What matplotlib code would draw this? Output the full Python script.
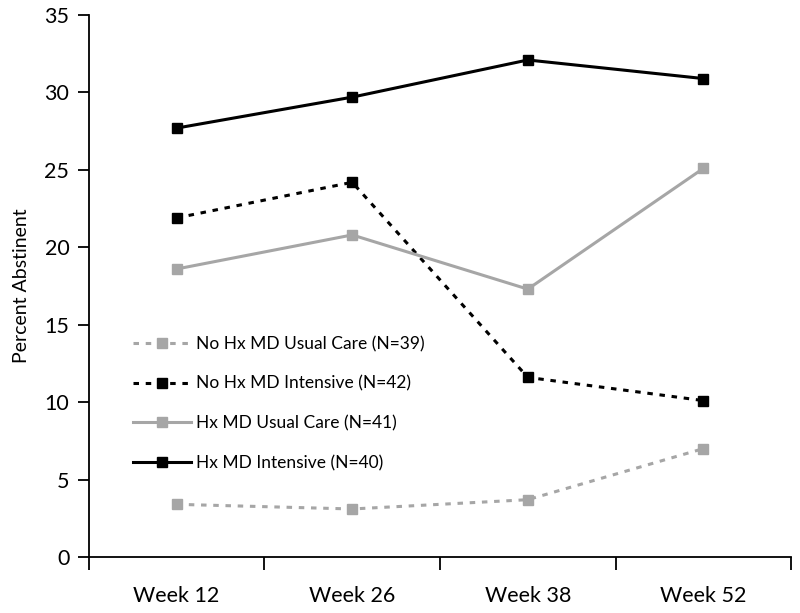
import matplotlib
matplotlib.use("Agg")
import matplotlib.pyplot as plt
import numpy as np

plt.rcParams['font.family'] = ['Lato', 'DejaVu Sans']

weeks = ['Week 12', 'Week 26', 'Week 38', 'Week 52']
no_hx_usual = [3.4, 3.1, 3.7, 7.0]
no_hx_intensive = [21.9, 24.2, 11.6, 10.1]
hx_usual = [18.6, 20.8, 17.3, 25.1]
hx_intensive = [27.7, 29.7, 32.1, 30.9]

gray = '#a6a6a6'
x = np.arange(1, len(weeks) + 1)

fig = plt.figure(figsize=(8, 6.13), dpi=100)
ax = fig.add_axes([0.111, 0.0914, 0.878, 0.884])

ax.plot(x, no_hx_usual, color=gray, lw=2.2, ls=(0, (1.8, 2.2)), marker='s', ms=7,
        label='No Hx MD Usual Care (N=39)')
ax.plot(x, no_hx_intensive, color='black', lw=2.2, ls=(0, (1.8, 2.2)), marker='s', ms=7,
        label='No Hx MD Intensive (N=42)')
ax.plot(x, hx_usual, color=gray, lw=2.2, marker='s', ms=7,
        label='Hx MD Usual Care (N=41)')
ax.plot(x, hx_intensive, color='black', lw=2.2, marker='s', ms=7,
        label='Hx MD Intensive (N=40)')

ax.set_ylim(0, 35)
ax.set_yticks(range(0, 36, 5))
ax.set_xlim(0.5, len(weeks) + 0.5)
# ticks sit between the weeks, labels are centred on them
ax.set_xticks(np.arange(0.5, len(weeks) + 1, 1))
ax.set_xticklabels([])
ax.set_xticks(x, minor=True)
ax.set_xticklabels(weeks, minor=True)
ax.tick_params(axis='x', which='minor', length=0, pad=21, labelsize=15.5)
ax.tick_params(axis='x', which='major', length=9, width=1.3, direction='out')
ax.tick_params(axis='y', length=8, width=1.3, labelsize=15.5, pad=6)

for s in ['top', 'right']:
    ax.spines[s].set_visible(False)
ax.spines['left'].set_linewidth(1.3)
ax.spines['bottom'].set_linewidth(1.3)

ax.set_ylabel('Percent Abstinent', fontsize=14, labelpad=10)

ax.legend(loc='upper left', bbox_to_anchor=(0.158, 0.463), bbox_transform=fig.transFigure,
          frameon=False, fontsize=12.5, handlelength=3.3, labelspacing=1.35,
          handletextpad=0.3, borderaxespad=0)

fig.savefig('out.png', dpi=100)
